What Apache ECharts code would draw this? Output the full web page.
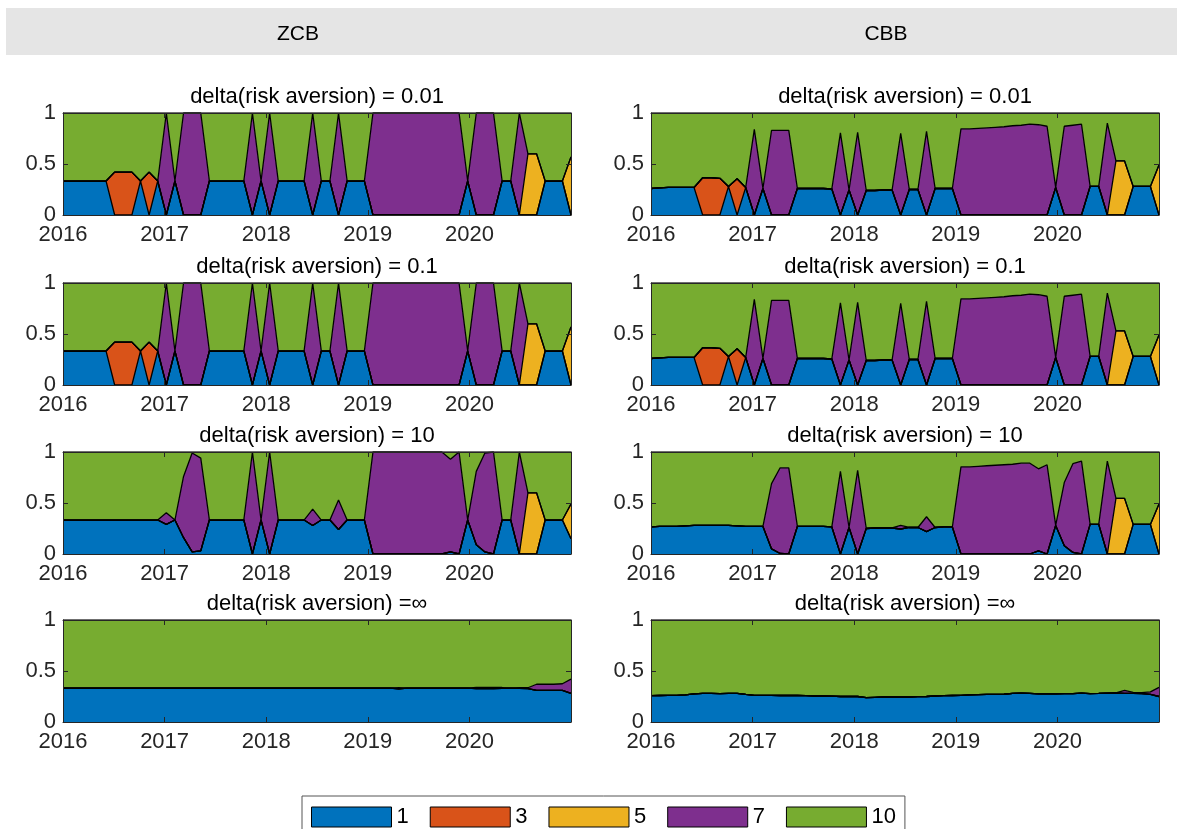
<!DOCTYPE html>
<html>
<head>
<meta charset="utf-8">
<script src="https://cdn.jsdelivr.net/npm/echarts@6/dist/echarts.min.js"></script>
<style>
  html, body { margin: 0; padding: 0; background: #fff; }
  #chart { width: 1177px; height: 829px; }
</style>
</head>
<body>
<div id="chart"></div>
<script>
// monthly observations, Jan 2016 .. Dec 2020
const months = [];
for (let y = 2016; y <= 2020; y++) {
  for (let m = 1; m <= 12; m++) months.push(y + '-' + (m < 10 ? '0' + m : m));
}
const yearTicks = [2016, 2017, 2018, 2019, 2020];

const seriesNames = ['1', '3', '5', '7', '10'];
const seriesColors = ['#0072BD', '#D95319', '#EDB120', '#7E2F8E', '#77AC30'];

const none = [
  0, 0, 0, 0, 0, 0, 0, 0, 0, 0, 0, 0,
  0, 0, 0, 0, 0, 0, 0, 0, 0, 0, 0, 0,
  0, 0, 0, 0, 0, 0, 0, 0, 0, 0, 0, 0,
  0, 0, 0, 0, 0, 0, 0, 0, 0, 0, 0, 0,
  0, 0, 0, 0, 0, 0, 0, 0, 0, 0, 0, 0
];

// ZCB, delta = 0.01 (same picture for delta = 0.1)
const zcbLow1 = [
  0.333, 0.333, 0.333, 0.333, 0.333, 0.333, 0, 0, 0, 0.333, 0, 0.333,
  0, 0.333, 0, 0, 0, 0.333, 0.333, 0.333, 0.333, 0.333, 0, 0.333,
  0, 0.333, 0.333, 0.333, 0.333, 0, 0.333, 0.333, 0, 0.333, 0.333, 0.333,
  0, 0, 0, 0, 0, 0, 0, 0, 0, 0, 0, 0.333,
  0, 0, 0, 0.333, 0.333, 0, 0, 0, 0.333, 0.333, 0.333, 0
];
const zcbLow3 = [
  0, 0, 0, 0, 0, 0, 0.42, 0.42, 0.42, 0, 0.42, 0,
  0, 0, 0, 0, 0, 0, 0, 0, 0, 0, 0, 0,
  0, 0, 0, 0, 0, 0, 0, 0, 0, 0, 0, 0,
  0, 0, 0, 0, 0, 0, 0, 0, 0, 0, 0, 0,
  0, 0, 0, 0, 0, 0, 0, 0, 0, 0, 0, 0
];
const zcbLow5 = [
  0, 0, 0, 0, 0, 0, 0, 0, 0, 0, 0, 0,
  0, 0, 0, 0, 0, 0, 0, 0, 0, 0, 0, 0,
  0, 0, 0, 0, 0, 0, 0, 0, 0, 0, 0, 0,
  0, 0, 0, 0, 0, 0, 0, 0, 0, 0, 0, 0,
  0, 0, 0, 0, 0, 0, 0.6, 0.6, 0, 0, 0, 0.57
];
const zcbLow7 = [
  0, 0, 0, 0, 0, 0, 0, 0, 0, 0, 0, 0,
  1, 0, 1, 1, 1, 0, 0, 0, 0, 0, 1, 0,
  1, 0, 0, 0, 0, 1, 0, 0, 1, 0, 0, 0,
  1, 1, 1, 1, 1, 1, 1, 1, 1, 1, 1, 0,
  1, 1, 1, 0, 0, 1, 0, 0, 0, 0, 0, 0
];
const zcbLow10 = [
  0.667, 0.667, 0.667, 0.667, 0.667, 0.667, 0.58, 0.58, 0.58, 0.667, 0.58, 0.667,
  0, 0.667, 0, 0, 0, 0.667, 0.667, 0.667, 0.667, 0.667, 0, 0.667,
  0, 0.667, 0.667, 0.667, 0.667, 0, 0.667, 0.667, 0, 0.667, 0.667, 0.667,
  0, 0, 0, 0, 0, 0, 0, 0, 0, 0, 0, 0.667,
  0, 0, 0, 0.667, 0.667, 0, 0.4, 0.4, 0.667, 0.667, 0.667, 0.43
];

// ZCB, delta = 10
const zcbMid1 = [
  0.333, 0.333, 0.333, 0.333, 0.333, 0.333, 0.333, 0.333, 0.333, 0.333, 0.333, 0.333,
  0.29, 0.333, 0.16, 0.02, 0.03, 0.333, 0.333, 0.333, 0.333, 0.333, 0, 0.333,
  0, 0.333, 0.333, 0.333, 0.333, 0.28, 0.333, 0.333, 0.24, 0.333, 0.333, 0.333,
  0, 0, 0, 0, 0, 0, 0, 0, 0, 0.02, 0, 0.333,
  0.09, 0.02, 0, 0.333, 0.333, 0, 0, 0, 0.333, 0.333, 0.333, 0.15
];
const zcbMid5 = [
  0, 0, 0, 0, 0, 0, 0, 0, 0, 0, 0, 0,
  0, 0, 0, 0, 0, 0, 0, 0, 0, 0, 0, 0,
  0, 0, 0, 0, 0, 0, 0, 0, 0, 0, 0, 0,
  0, 0, 0, 0, 0, 0, 0, 0, 0, 0, 0, 0,
  0, 0, 0, 0, 0, 0, 0.6, 0.6, 0, 0, 0, 0.34
];
const zcbMid7 = [
  0, 0, 0, 0, 0, 0, 0, 0, 0, 0, 0, 0,
  0.115, 0, 0.6, 0.97, 0.91, 0, 0, 0, 0, 0, 1, 0,
  1, 0, 0, 0, 0, 0.16, 0, 0, 0.29, 0, 0, 0,
  1, 1, 1, 1, 1, 1, 1, 1, 1, 0.91, 1, 0,
  0.72, 0.97, 1, 0, 0, 1, 0, 0, 0, 0, 0, 0
];
const zcbMid10 = [
  0.667, 0.667, 0.667, 0.667, 0.667, 0.667, 0.667, 0.667, 0.667, 0.667, 0.667, 0.667,
  0.595, 0.667, 0.24, 0.01, 0.06, 0.667, 0.667, 0.667, 0.667, 0.667, 0, 0.667,
  0, 0.667, 0.667, 0.667, 0.667, 0.56, 0.667, 0.667, 0.47, 0.667, 0.667, 0.667,
  0, 0, 0, 0, 0, 0, 0, 0, 0, 0.07, 0, 0.667,
  0.19, 0.01, 0, 0.667, 0.667, 0, 0.4, 0.4, 0.667, 0.667, 0.667, 0.51
];

// ZCB, delta = inf
const zcbInf1 = [
  0.333, 0.333, 0.333, 0.333, 0.333, 0.333, 0.333, 0.333, 0.333, 0.333, 0.333, 0.333,
  0.333, 0.333, 0.333, 0.333, 0.333, 0.333, 0.333, 0.333, 0.333, 0.333, 0.333, 0.333,
  0.333, 0.333, 0.333, 0.333, 0.333, 0.333, 0.333, 0.333, 0.333, 0.333, 0.333, 0.333,
  0.333, 0.333, 0.333, 0.326, 0.333, 0.333, 0.333, 0.333, 0.333, 0.333, 0.333, 0.333,
  0.327, 0.327, 0.328, 0.33, 0.333, 0.33, 0.328, 0.31, 0.31, 0.31, 0.31, 0.28
];
const zcbInf7 = [
  0, 0, 0, 0, 0, 0, 0, 0, 0, 0, 0, 0,
  0, 0, 0, 0, 0, 0, 0, 0, 0, 0, 0, 0,
  0, 0, 0, 0, 0, 0, 0, 0, 0, 0, 0, 0,
  0, 0, 0, 0.012, 0, 0, 0, 0, 0, 0, 0, 0,
  0.012, 0.013, 0.01, 0.008, 0, 0.006, 0.008, 0.06, 0.06, 0.06, 0.065, 0.14
];
const zcbInf10 = [
  0.667, 0.667, 0.667, 0.667, 0.667, 0.667, 0.667, 0.667, 0.667, 0.667, 0.667, 0.667,
  0.667, 0.667, 0.667, 0.667, 0.667, 0.667, 0.667, 0.667, 0.667, 0.667, 0.667, 0.667,
  0.667, 0.667, 0.667, 0.667, 0.667, 0.667, 0.667, 0.667, 0.667, 0.667, 0.667, 0.667,
  0.667, 0.667, 0.667, 0.662, 0.667, 0.667, 0.667, 0.667, 0.667, 0.667, 0.667, 0.667,
  0.661, 0.66, 0.662, 0.662, 0.667, 0.664, 0.664, 0.63, 0.63, 0.63, 0.625, 0.58
];

// CBB, delta = 0.01 (same picture for delta = 0.1)
const cbbLow1 = [
  0.26, 0.265, 0.27, 0.27, 0.27, 0.27, 0, 0, 0, 0.28, 0, 0.27,
  0, 0.26, 0, 0, 0, 0.26, 0.26, 0.26, 0.26, 0.255, 0, 0.245,
  0, 0.24, 0.24, 0.245, 0.245, 0, 0.25, 0.25, 0, 0.26, 0.26, 0.26,
  0, 0, 0, 0, 0, 0, 0, 0, 0, 0, 0, 0.27,
  0, 0, 0, 0.28, 0.28, 0, 0, 0, 0.28, 0.28, 0.28, 0
];
const cbbLow3 = [
  0, 0, 0, 0, 0, 0, 0.365, 0.365, 0.36, 0, 0.355, 0,
  0, 0, 0, 0, 0, 0, 0, 0, 0, 0, 0, 0,
  0, 0, 0, 0, 0, 0, 0, 0, 0, 0, 0, 0,
  0, 0, 0, 0, 0, 0, 0, 0, 0, 0, 0, 0,
  0, 0, 0, 0, 0, 0, 0, 0, 0, 0, 0, 0
];
const cbbLow5 = [
  0, 0, 0, 0, 0, 0, 0, 0, 0, 0, 0, 0,
  0, 0, 0, 0, 0, 0, 0, 0, 0, 0, 0, 0,
  0, 0, 0, 0, 0, 0, 0, 0, 0, 0, 0, 0,
  0, 0, 0, 0, 0, 0, 0, 0, 0, 0, 0, 0,
  0, 0, 0, 0, 0, 0, 0.53, 0.53, 0, 0, 0, 0.49
];
const cbbLow7 = [
  0, 0, 0, 0, 0, 0, 0, 0, 0, 0, 0, 0,
  0.84, 0, 0.83, 0.83, 0.83, 0, 0, 0, 0, 0, 0.805, 0,
  0.81, 0, 0, 0, 0, 0.8, 0, 0, 0.82, 0, 0, 0,
  0.845, 0.845, 0.85, 0.855, 0.86, 0.865, 0.875, 0.88, 0.89, 0.885, 0.87, 0,
  0.87, 0.88, 0.89, 0, 0, 0.9, 0, 0, 0, 0, 0, 0
];
const cbbLow10 = [
  0.74, 0.735, 0.73, 0.73, 0.73, 0.73, 0.635, 0.635, 0.64, 0.72, 0.645, 0.73,
  0.16, 0.74, 0.17, 0.17, 0.17, 0.74, 0.74, 0.74, 0.74, 0.745, 0.195, 0.755,
  0.19, 0.76, 0.76, 0.755, 0.755, 0.2, 0.75, 0.75, 0.18, 0.74, 0.74, 0.74,
  0.155, 0.155, 0.15, 0.145, 0.14, 0.135, 0.125, 0.12, 0.11, 0.115, 0.13, 0.73,
  0.13, 0.12, 0.11, 0.72, 0.72, 0.1, 0.47, 0.47, 0.72, 0.72, 0.72, 0.51
];

// CBB, delta = 10
const cbbMid1 = [
  0.265, 0.27, 0.27, 0.27, 0.275, 0.28, 0.28, 0.28, 0.28, 0.28, 0.275, 0.27,
  0.27, 0.27, 0.05, 0.005, 0, 0.27, 0.27, 0.27, 0.27, 0.265, 0, 0.26,
  0, 0.25, 0.255, 0.255, 0.255, 0.245, 0.26, 0.26, 0.22, 0.26, 0.265, 0.265,
  0, 0, 0, 0, 0, 0, 0, 0, 0, 0.03, 0, 0.28,
  0.08, 0.015, 0, 0.29, 0.29, 0, 0, 0, 0.29, 0.29, 0.29, 0
];
const cbbMid5 = [
  0, 0, 0, 0, 0, 0, 0, 0, 0, 0, 0, 0,
  0, 0, 0, 0, 0, 0, 0, 0, 0, 0, 0, 0,
  0, 0, 0, 0, 0, 0, 0, 0, 0, 0, 0, 0,
  0, 0, 0, 0, 0, 0, 0, 0, 0, 0, 0, 0,
  0, 0, 0, 0, 0, 0, 0.545, 0.545, 0, 0, 0, 0.49
];
const cbbMid7 = [
  0, 0, 0, 0, 0, 0, 0, 0, 0, 0, 0, 0,
  0, 0, 0.64, 0.84, 0.845, 0, 0, 0, 0, 0, 0.81, 0,
  0.82, 0, 0, 0, 0, 0.035, 0, 0, 0.145, 0, 0, 0,
  0.855, 0.855, 0.86, 0.865, 0.87, 0.875, 0.88, 0.89, 0.89, 0.805, 0.875, 0,
  0.62, 0.87, 0.91, 0, 0, 0.91, 0, 0, 0, 0, 0, 0
];
const cbbMid10 = [
  0.735, 0.73, 0.73, 0.73, 0.725, 0.72, 0.72, 0.72, 0.72, 0.72, 0.725, 0.73,
  0.73, 0.73, 0.31, 0.155, 0.155, 0.73, 0.73, 0.73, 0.73, 0.735, 0.19, 0.74,
  0.18, 0.75, 0.745, 0.745, 0.745, 0.72, 0.74, 0.74, 0.635, 0.74, 0.735, 0.735,
  0.145, 0.145, 0.14, 0.135, 0.13, 0.125, 0.12, 0.11, 0.11, 0.165, 0.125, 0.72,
  0.3, 0.115, 0.09, 0.71, 0.71, 0.09, 0.455, 0.455, 0.71, 0.71, 0.71, 0.51
];

// CBB, delta = inf
const cbbInf1 = [
  0.258, 0.26, 0.262, 0.262, 0.265, 0.275, 0.28, 0.28, 0.278, 0.28, 0.28, 0.27,
  0.262, 0.262, 0.262, 0.26, 0.26, 0.26, 0.258, 0.255, 0.255, 0.253, 0.25, 0.25,
  0.25, 0.238, 0.242, 0.245, 0.245, 0.245, 0.245, 0.248, 0.25, 0.255, 0.258, 0.26,
  0.262, 0.265, 0.268, 0.27, 0.27, 0.272, 0.28, 0.283, 0.28, 0.275, 0.275, 0.275,
  0.278, 0.278, 0.283, 0.278, 0.28, 0.283, 0.285, 0.28, 0.28, 0.278, 0.27, 0.25
];
const cbbInf7 = [
  0, 0, 0, 0, 0, 0, 0, 0, 0, 0, 0, 0,
  0, 0, 0, 0, 0, 0, 0, 0, 0, 0, 0, 0,
  0, 0, 0, 0, 0, 0, 0, 0, 0, 0, 0, 0,
  0, 0, 0, 0, 0, 0, 0, 0, 0, 0, 0, 0,
  0, 0, 0, 0, 0, 0, 0, 0.03, 0.01, 0.01, 0.025, 0.09
];
const cbbInf10 = [
  0.742, 0.74, 0.738, 0.738, 0.735, 0.725, 0.72, 0.72, 0.722, 0.72, 0.72, 0.73,
  0.738, 0.738, 0.738, 0.74, 0.74, 0.74, 0.742, 0.745, 0.745, 0.747, 0.75, 0.75,
  0.75, 0.762, 0.758, 0.755, 0.755, 0.755, 0.755, 0.752, 0.75, 0.745, 0.742, 0.74,
  0.738, 0.735, 0.732, 0.73, 0.73, 0.728, 0.72, 0.717, 0.72, 0.725, 0.725, 0.725,
  0.722, 0.722, 0.717, 0.722, 0.72, 0.717, 0.715, 0.69, 0.71, 0.712, 0.705, 0.66
];

const panels = [
  { col: 0, row: 0, title: 'delta(risk aversion) = 0.01', data: [zcbLow1, zcbLow3, zcbLow5, zcbLow7, zcbLow10] },
  { col: 0, row: 1, title: 'delta(risk aversion) = 0.1', data: [zcbLow1, zcbLow3, zcbLow5, zcbLow7, zcbLow10] },
  { col: 0, row: 2, title: 'delta(risk aversion) = 10', data: [zcbMid1, none, zcbMid5, zcbMid7, zcbMid10] },
  { col: 0, row: 3, title: 'delta(risk aversion) =\u221E', data: [zcbInf1, none, none, zcbInf7, zcbInf10] },
  { col: 1, row: 0, title: 'delta(risk aversion) = 0.01', data: [cbbLow1, cbbLow3, cbbLow5, cbbLow7, cbbLow10] },
  { col: 1, row: 1, title: 'delta(risk aversion) = 0.1', data: [cbbLow1, cbbLow3, cbbLow5, cbbLow7, cbbLow10] },
  { col: 1, row: 2, title: 'delta(risk aversion) = 10', data: [cbbMid1, none, cbbMid5, cbbMid7, cbbMid10] },
  { col: 1, row: 3, title: 'delta(risk aversion) =\u221E', data: [cbbInf1, none, none, cbbInf7, cbbInf10] }
];

const font = '"Liberation Sans", Arial, Helvetica, sans-serif';
const axisColor = '#262626';
const colLeft = [63, 651];
const rowTop = [113, 283, 452, 620];
const plotW = 508;
const plotH = 102;

const grid = [], xAxis = [], yAxis = [], series = [];
const graphic = [
  { type: 'rect', shape: { x: 6, y: 8, width: 1171, height: 47 }, style: { fill: '#e5e5e5' }, z: -10 },
  { type: 'text', x: 298, y: 34, style: { text: 'ZCB', fontSize: 21, fontFamily: font, fill: '#000', align: 'center', verticalAlign: 'middle' } },
  { type: 'text', x: 886, y: 34, style: { text: 'CBB', fontSize: 21, fontFamily: font, fill: '#000', align: 'center', verticalAlign: 'middle' } }
];

// year ticks drawn on a value axis laid over the (hidden) month category axis
function frameAxis(k, pos, labels) {
  return {
    type: 'value', gridIndex: k, position: pos,
    min: 2016, max: 2021, interval: 1,
    axisLine: { show: true, lineStyle: { color: axisColor, width: 1 } },
    axisTick: { show: true, inside: true, length: 5, lineStyle: { color: axisColor } },
    axisLabel: {
      show: labels, margin: 9, fontSize: 22, fontFamily: font, color: axisColor,
      formatter: v => (yearTicks.indexOf(v) >= 0 ? String(v) : '')
    },
    splitLine: { show: false },
    z: 10
  };
}

function valueAxis(k, pos, labels) {
  return {
    type: 'value', gridIndex: k, position: pos,
    min: 0, max: 1, interval: 0.5,
    axisLine: { show: true, lineStyle: { color: axisColor, width: 1 } },
    axisTick: { show: true, inside: true, length: 5, lineStyle: { color: axisColor } },
    axisLabel: { show: labels, margin: 7, fontSize: 22, fontFamily: font, color: axisColor },
    splitLine: { show: false },
    z: 10
  };
}

panels.forEach((p, k) => {
  const left = colLeft[p.col];
  const top = rowTop[p.row];
  grid.push({ left: left, top: top, width: plotW, height: plotH });

  xAxis.push({ type: 'category', gridIndex: k, data: months, boundaryGap: false, position: 'bottom', show: false });
  xAxis.push(frameAxis(k, 'bottom', true));
  xAxis.push(frameAxis(k, 'top', false));
  yAxis.push(valueAxis(k, 'left', true));
  yAxis.push(valueAxis(k, 'right', false));

  graphic.push({
    type: 'text', x: left + plotW / 2, y: top - 16,
    style: { text: p.title, fontSize: 22, fontFamily: font, fill: '#000', align: 'center', verticalAlign: 'middle' }
  });

  p.data.forEach((vals, s) => {
    series.push({
      name: seriesNames[s],
      type: 'line',
      xAxisIndex: 3 * k,
      yAxisIndex: 2 * k,
      stack: 'panel' + k,
      data: vals,
      symbol: 'none',
      showSymbol: false,
      itemStyle: { color: seriesColors[s] },
      lineStyle: { color: '#000', width: 1.3 },
      areaStyle: { color: seriesColors[s], opacity: 1 },
      emphasis: { disabled: true }
    });
  });
});

const chart = echarts.init(document.getElementById('chart'));
chart.setOption({
  animation: false,
  backgroundColor: '#fff',
  graphic: graphic,
  grid: grid,
  xAxis: xAxis,
  yAxis: yAxis,
  legend: {
    data: seriesNames,
    left: 302,
    top: 796,
    icon: 'rect',
    itemWidth: 80,
    itemHeight: 20,
    itemGap: 21,
    padding: [10, 9, 10, 9],
    borderColor: '#555',
    borderWidth: 1,
    backgroundColor: '#fff',
    selectedMode: false,
    itemStyle: { borderColor: '#000', borderWidth: 1 },
    textStyle: { fontSize: 22, fontFamily: font, color: '#000' }
  },
  series: series
});
</script>
</body>
</html>
